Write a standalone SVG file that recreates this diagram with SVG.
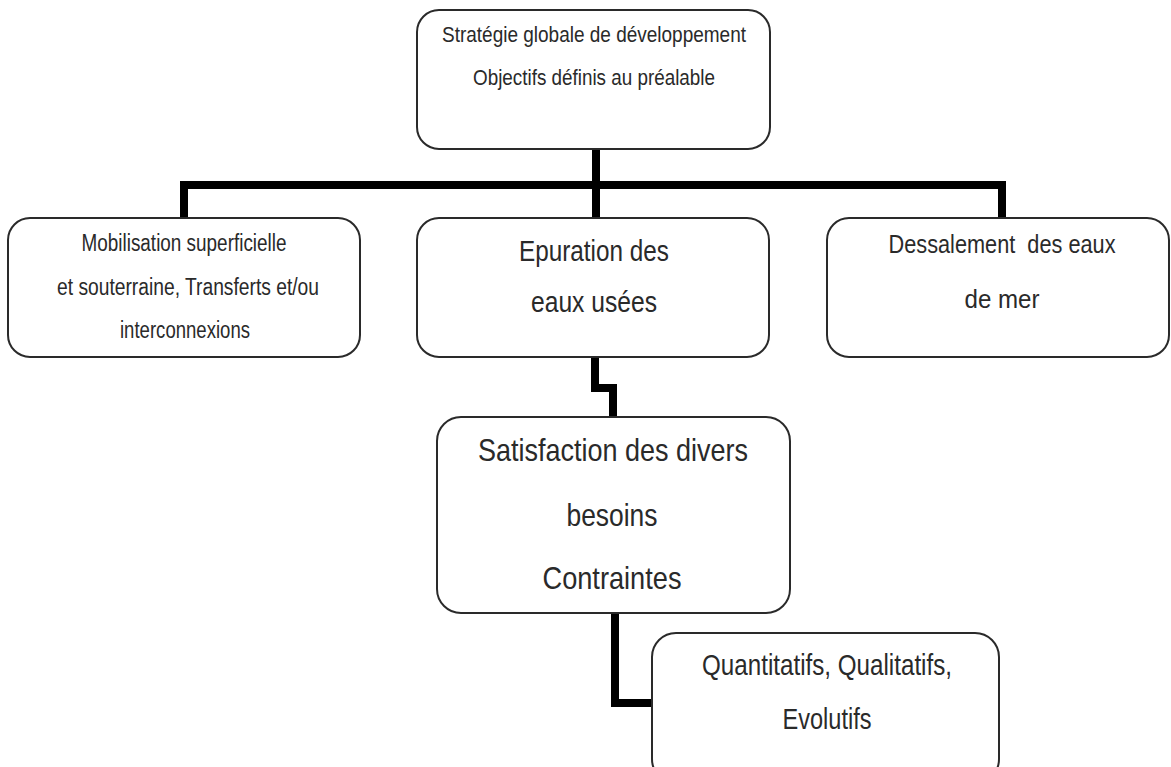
<svg xmlns="http://www.w3.org/2000/svg" width="1171" height="767" viewBox="0 0 1171 767">
<style>
.box{fill:#fff;stroke:#2a2a2a;stroke-width:2}
.t{font-family:"Liberation Sans",Arial,sans-serif;fill:#2a2a2a;text-anchor:middle}
.conn{fill:none;stroke:#000;stroke-width:8;stroke-linejoin:miter}
</style>
<rect width="1171" height="767" fill="#fff"/>
<g id="connectors">
<path class="conn" d="M596,149 V218"/>
<path class="conn" d="M184,218 V185 H1002 V218"/>
<path class="conn" d="M595,357 V388 H613 V417"/>
<path class="conn" d="M615,613 V703 H652"/>
</g>
<g id="n-strategie">
<rect class="box" x="417" y="10" width="353" height="139" rx="22"/>
<text class="t" x="594" y="42" font-size="22" textLength="304" lengthAdjust="spacingAndGlyphs">Stratégie globale de développement</text>
<text class="t" x="594" y="85" font-size="22" textLength="242" lengthAdjust="spacingAndGlyphs">Objectifs définis au préalable</text>
</g>
<g id="n-mobilisation">
<rect class="box" x="8" y="218" width="352" height="139" rx="22"/>
<text class="t" x="184" y="251" font-size="23" textLength="205" lengthAdjust="spacingAndGlyphs">Mobilisation superficielle</text>
<text class="t" x="188" y="295" font-size="23" textLength="262" lengthAdjust="spacingAndGlyphs">et souterraine, Transferts et/ou</text>
<text class="t" x="185" y="338" font-size="23" textLength="130" lengthAdjust="spacingAndGlyphs">interconnexions</text>
</g>
<g id="n-epuration">
<rect class="box" x="417" y="218" width="352" height="139" rx="22"/>
<text class="t" x="594" y="261" font-size="29" textLength="150" lengthAdjust="spacingAndGlyphs">Epuration des</text>
<text class="t" x="594" y="312" font-size="29" textLength="126" lengthAdjust="spacingAndGlyphs">eaux usées</text>
</g>
<g id="n-dessalement">
<rect class="box" x="827" y="218" width="342" height="139" rx="22"/>
<text class="t" x="1002" y="253" font-size="26" textLength="227" lengthAdjust="spacingAndGlyphs">Dessalement&#160; des eaux</text>
<text class="t" x="1002" y="308" font-size="26" textLength="75" lengthAdjust="spacingAndGlyphs">de mer</text>
</g>
<g id="n-satisfaction">
<rect class="box" x="437" y="417" width="353" height="196" rx="24"/>
<text class="t" x="613" y="461" font-size="32" textLength="270" lengthAdjust="spacingAndGlyphs">Satisfaction des divers</text>
<text class="t" x="612" y="526" font-size="32" textLength="91" lengthAdjust="spacingAndGlyphs">besoins</text>
<text class="t" x="612" y="589" font-size="32" textLength="139" lengthAdjust="spacingAndGlyphs">Contraintes</text>
</g>
<g id="n-quantitatifs">
<rect class="box" x="652" y="633" width="347" height="150" rx="24"/>
<text class="t" x="827" y="675" font-size="30" textLength="250" lengthAdjust="spacingAndGlyphs">Quantitatifs, Qualitatifs,</text>
<text class="t" x="827" y="729" font-size="30" textLength="89" lengthAdjust="spacingAndGlyphs">Evolutifs</text>
</g>
</svg>
